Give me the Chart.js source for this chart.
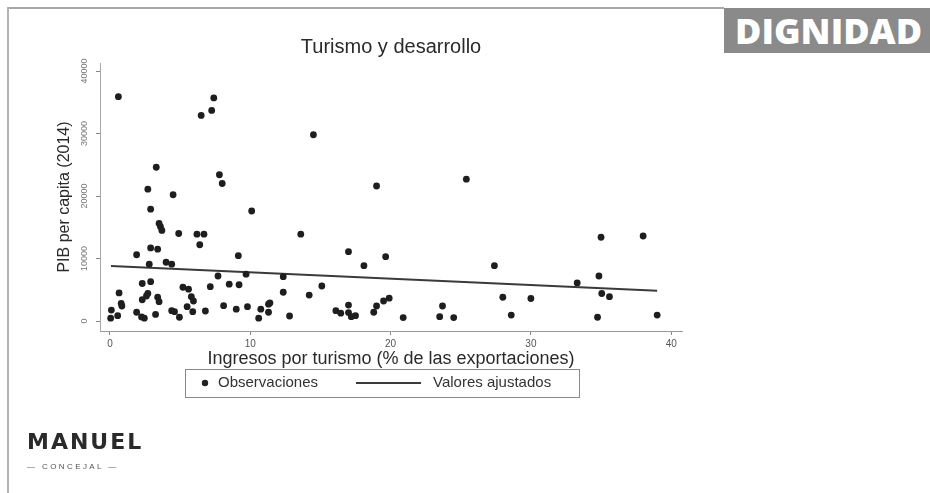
<!DOCTYPE html>
<html><head><meta charset="utf-8">
<script src="https://cdn.jsdelivr.net/npm/chart.js@4.4.0/dist/chart.umd.min.js"></script>
<style>
html,body{margin:0;padding:0;background:#fff;width:930px;height:493px;overflow:hidden;position:relative;font-family:"Liberation Sans",Arial,sans-serif}
.frameTop{position:absolute;left:7px;top:7px;width:717px;height:2px;background:#a8a8a8}
.frameLeft{position:absolute;left:7px;top:7px;width:2px;height:486px;background:#b4b4b4}
.badge{position:absolute;left:724px;top:8px;width:206px;height:45px;background:#8a8a8a;color:#fff;font-family:"Open Sans",sans-serif;font-weight:800;font-size:36px;line-height:45px;padding-left:11px;box-sizing:border-box;white-space:nowrap;overflow:hidden}
.logo{position:absolute;left:27px;top:429px;font-family:"DejaVu Sans",sans-serif;font-weight:bold;font-size:22px;color:#2a2a2a;letter-spacing:2px}
.sub{position:absolute;left:27px;top:462px;font-size:8px;color:#555;letter-spacing:2.4px;white-space:nowrap}
</style></head>
<body>
<div class="frameTop"></div><div class="frameLeft"></div>
<div class="badge">DIGNIDAD</div>
<canvas id="c" width="930" height="493" style="position:absolute;left:0;top:0"></canvas>
<div class="logo">MANUEL</div>
<div class="sub">— CONCEJAL —</div>
<script>
// Observations: tourism receipts (% of exports) vs GDP per capita (2014)
const obsX = [0.6, 7.4, 7.25, 6.5, 3.3, 2.7, 4.5, 7.8, 8.0,
  2.9, 10.1, 3.5, 3.6, 3.7, 4.9, 6.2, 6.7, 6.4, 2.9, 3.4, 1.9, 9.15, 2.8, 4.0, 4.4, 7.7, 9.7,
  2.3, 2.9, 5.2, 5.6, 7.15, 8.5, 9.2, 0.65, 0.8, 0.85, 2.3, 2.6, 2.7, 3.4, 3.5, 5.8, 5.95,
  8.1, 9.0, 9.8, 10.75, 11.3, 11.3, 0.1, 0.05, 0.55, 1.9, 2.25, 2.45, 3.25, 4.4, 4.6, 4.95,
  5.5, 5.9, 6.8, 10.6,
  14.5, 19.0, 25.4, 13.6, 17.0, 19.65, 18.1, 12.35, 15.1, 12.35, 14.2, 11.4, 12.8, 16.1,
  16.45, 17.0, 17.0, 17.2, 17.5, 18.8, 19.0, 19.5, 19.9, 20.9, 23.5, 23.7, 24.5,
  27.4, 28.0, 28.6, 30.0, 33.3, 35.0, 34.85, 35.05, 35.6, 34.75, 38.0, 39.0];
const obsY = [35900, 35700, 33700, 32900, 24600, 21100, 20200, 23400, 22000,
  17900, 17600, 15600, 15100, 14500, 14000, 13900, 13900, 12200, 11700, 11500, 10600, 10450, 9100, 9400, 9100, 7200, 7500,
  6000, 6300, 5400, 5100, 5500, 5900, 5800, 4500, 2800, 2400, 3400, 4000, 4400, 3800, 3100, 3900, 3200,
  2450, 1900, 2300, 1900, 2700, 1400, 1750, 450, 850, 1400, 650, 450, 1050, 1650, 1500, 600,
  2300, 1500, 1600, 450,
  29800, 21600, 22700, 13900, 11100, 10300, 8850, 7100, 5600, 4600, 4150, 2900, 800, 1650,
  1250, 2550, 1350, 700, 850, 1400, 2400, 3200, 3650, 550, 700, 2400, 550,
  8850, 3800, 950, 3600, 6100, 13400, 7200, 4400, 3900, 600, 13600, 950];
// Fitted values (linear fit), read at the ends of the line
const fitX = [0.07, 39.0];
const fitY = [8800, 4850];
// Tick labels
const xTicks = [0, 10, 20, 30, 40];
const yTicks = [0, 10000, 20000, 30000, 40000];
const legendLabels = ['Observaciones', 'Valores ajustados'];

const obsData = obsX.map((x, i) => ({x: x, y: obsY[i]}));
const fitData = fitX.map((x, i) => ({x: x, y: fitY[i]}));

const legendPlugin = {
  id: 'boxLegend',
  afterDraw(chart) {
    const ctx = chart.ctx;
    ctx.save();
    const L = 185, T = 369, W = 394, H = 28, cy = T + H / 2;
    ctx.strokeStyle = '#8a8a8a';
    ctx.lineWidth = 1;
    ctx.strokeRect(L + 0.5, T + 0.5, W, H);
    ctx.fillStyle = '#222';
    ctx.beginPath();
    ctx.arc(205, cy, 3.2, 0, Math.PI * 2);
    ctx.fill();
    ctx.font = '15px "Liberation Sans", Arial, sans-serif';
    ctx.textBaseline = 'middle';
    ctx.fillStyle = '#333';
    ctx.fillText(legendLabels[0], 218, cy);
    ctx.strokeStyle = '#3a3a3a';
    ctx.lineWidth = 2;
    ctx.beginPath();
    ctx.moveTo(356, cy);
    ctx.lineTo(421, cy);
    ctx.stroke();
    ctx.fillText(legendLabels[1], 433, cy);
    ctx.restore();
  }
};

new Chart(document.getElementById('c'), {
  type: 'scatter',
  data: {
    datasets: [
      {label: legendLabels[0], data: obsData, pointRadius: 3.4, pointHoverRadius: 3.4,
       backgroundColor: '#1e1e1e', borderColor: '#1e1e1e', borderWidth: 0},
      {label: legendLabels[1], data: fitData, showLine: true, pointRadius: 0,
       borderColor: '#3a3a3a', borderWidth: 2, fill: false}
    ]
  },
  options: {
    responsive: false,
    animation: false,
    devicePixelRatio: 1,
    layout: {padding: {left: 50, right: 248, top: 0, bottom: 122}},
    plugins: {
      legend: {display: false},
      tooltip: {enabled: false},
      title: {
        display: true, text: 'Turismo y desarrollo', fullSize: false,
        color: '#2a2a2a', font: {family: '"Liberation Sans", Arial, sans-serif', size: 20, weight: 'normal', lineHeight: 1.2},
        padding: {top: 35, bottom: 4}
      }
    },
    scales: {
      x: {
        type: 'linear', min: -0.71, max: 40.77,
        afterBuildTicks: s => { s.ticks = xTicks.map(v => ({value: v})); },
        afterFit: s => { s.height = 40; },
        grid: {drawOnChartArea: false, drawTicks: true, tickLength: 4, color: '#888', tickColor: '#888'},
        border: {display: true, color: '#999', width: 1},
        ticks: {color: '#555', font: {family: '"Liberation Sans", Arial, sans-serif', size: 10}, padding: 3,
                maxRotation: 0, minRotation: 0, callback: v => String(v)},
        title: {display: true, text: 'Ingresos por turismo (% de las exportaciones)', color: '#2a2a2a',
                font: {family: '"Liberation Sans", Arial, sans-serif', size: 18}, padding: {top: 0, bottom: 1.5}}
      },
      y: {
        type: 'linear', min: -1600, max: 41280,
        afterBuildTicks: s => { s.ticks = yTicks.map(v => ({value: v})); },
        afterFit: s => { s.width = 50; },
        grid: {drawOnChartArea: false, drawTicks: true, tickLength: 4, color: '#888', tickColor: '#888'},
        border: {display: true, color: '#aaa', width: 1},
        ticks: {color: '#777', font: {family: '"Liberation Sans", Arial, sans-serif', size: 9}, padding: -1.5,
                minRotation: 90, maxRotation: 90, crossAlign: 'center', callback: v => String(v)},
        title: {display: true, text: 'PIB per capita (2014)', color: '#2a2a2a',
                font: {family: '"Liberation Sans", Arial, sans-serif', size: 16}, padding: {top: 4.5, bottom: 0}}
      }
    }
  },
  plugins: [legendPlugin]
});
</script>
</body></html>
